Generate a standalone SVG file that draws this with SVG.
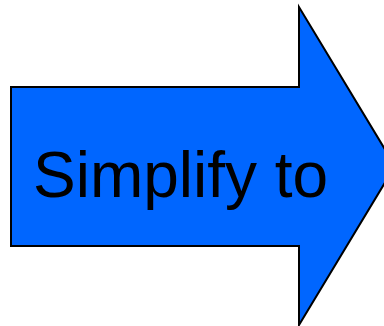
<svg xmlns="http://www.w3.org/2000/svg" width="384" height="326" viewBox="0 0 384 326">
<style>
.arrow{fill:#0066ff;stroke:#000;stroke-width:2;stroke-linejoin:miter}
.lbl{font-family:"Liberation Sans",Arial,sans-serif;font-size:64px;fill:#000}
</style>
<rect width="384" height="326" fill="#fff"/>
<g id="arrow">
<polygon class="arrow" points="11,87 299,87 299,7 395,166 299,325 299,246 11,246"/>
<text class="lbl" x="33" y="197">Simplify to</text>
</g>
</svg>
